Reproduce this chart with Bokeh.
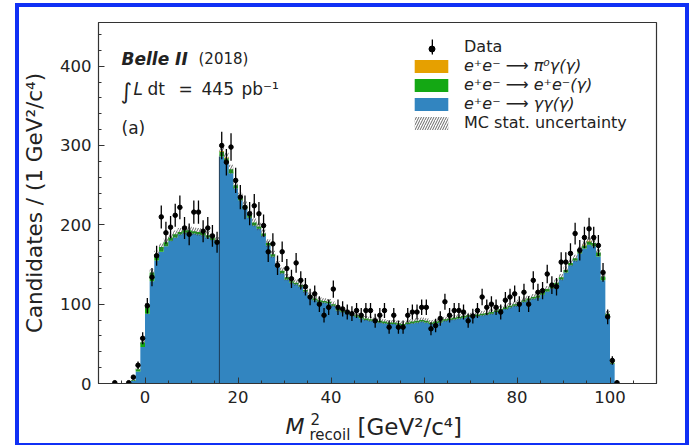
import numpy as np
from bokeh.plotting import figure
from bokeh.layouts import column
from bokeh.models import (Range1d, FixedTicker, Legend, LegendItem, Label, ColumnDataSource)
from bokeh.embed import file_html
from bokeh.resources import INLINE

# ---------------- data (1 GeV^2/c^4 bins, lower edge of first bin = -7) -------------
first_edge = -7
data_counts = [
    1, 0, 0, 1, 8, 23,
    57, 98, 134, 161, 210, 190, 197, 212, 222, 196, 188, 216, 216, 192, 196, 186, 178,
    300, 279, 298, 256, 235, 222, 214, 224, 214, 199, 166, 176, 149, 166, 145, 132, 152, 130,
    122, 109, 113, 100, 86, 96, 119, 96, 94, 90, 88, 92, 86, 92, 92, 79, 86, 92, 71, 86,
    71, 71, 86, 90, 90, 96, 96, 69, 73, 82, 103, 86, 92, 92, 90, 79, 85,
    92, 109, 96, 100, 96, 90, 105, 109, 113, 100, 115, 100, 130, 115, 117, 138, 124, 122,
    153, 153, 164, 189, 168, 184, 195, 184, 174, 140, 84, 29, 1,
]
# total height of the MC stack (gamma gamma + e+e- + pi0 gamma)
mc_stack_total = [
    0.5, 0.5, 0.5, 1, 4, 18,
    52, 98, 140, 163, 172, 178, 184, 188, 191, 193, 193, 192, 191, 190, 187, 184, 180,
    293, 285, 270, 250, 235, 224, 213, 203, 198, 189, 177, 163, 150, 142, 134, 129, 127, 124,
    118, 111, 107, 105, 104, 103, 100, 94, 92, 90, 88, 86, 84, 82, 81, 80, 79, 78, 77, 77,
    76, 75, 77, 78, 79, 80, 79, 77, 78, 79, 81, 82, 83, 84, 85, 86, 86,
    87, 88, 89, 90, 92, 94, 96, 98, 100, 102, 105, 107, 109, 111, 115, 119, 123,
    127, 134, 143, 152, 158, 168, 175, 180, 177, 165, 135, 88, 26, 2,
]
ee_counts = [
    0, 0, 0, 0, 1, 3,
    6, 10, 11, 8, 6, 5, 4, 4, 3, 3, 3, 3, 3, 3, 3, 3, 3,
    6, 5, 5, 4, 4, 4, 4, 4, 3, 3, 3, 3, 3, 3, 3, 2, 2, 2,
    2, 2, 2, 2, 2, 2, 2, 2, 2, 2, 2, 2, 2, 2, 2, 2, 2, 2, 2, 2,
    2, 2, 2, 2, 2, 2, 2, 2, 2, 2, 2, 2, 2, 2, 2, 2, 2,
    2, 2, 2, 2, 2, 2, 2, 2, 2, 2, 2, 2, 2, 3, 3, 3, 3,
    3, 3, 3, 3, 3, 4, 4, 4, 4, 5, 5, 3, 1, 0,
]
pi0_counts = [
    0, 0, 0, 0, 0, 0,
    0, 0, 0, 0, 0, 0, 0, 0, 0, 0, 0, 0, 0, 0, 0, 0, 0,
    1, 1, 0, 0, 0, 0, 0, 0, 0, 0, 0, 0, 0, 0, 0, 0, 0, 0,
    0, 0, 0, 0, 0, 0, 0, 0, 0, 0, 0, 0, 0, 0, 0, 0, 0, 0, 0, 0,
    0, 0, 0, 0, 0, 0, 0, 0, 0, 0, 0, 0, 0, 0, 0, 0, 0,
    0, 0, 0, 0, 0, 0, 0, 0, 0, 0, 0, 0, 0, 0, 0, 0, 0,
    0, 0, 0, 0, 0, 0, 1, 1, 0, 0, 0, 0, 0, 0,
]
x_ticks = [0, 20, 40, 60, 80, 100]
y_ticks = [0, 100, 200, 300, 400]

legend_labels = ["Data", "e\u207ae\u207b \u27f6 \u03c0\u2070\u03b3(\u03b3)",
                 "e\u207ae\u207b \u27f6 e\u207ae\u207b(\u03b3)",
                 "e\u207ae\u207b \u27f6 \u03b3\u03b3(\u03b3)", "MC stat. uncertainty"]

# ---------------- derived arrays ----------------
n = len(data_counts)
edges = first_edge + np.arange(n + 1, dtype=float)
centers = 0.5 * (edges[:-1] + edges[1:])
data = np.array(data_counts, dtype=float)
total = np.array(mc_stack_total, dtype=float)
ee = np.array(ee_counts, dtype=float)
pi0 = np.array(pi0_counts, dtype=float)
gg = np.clip(total - ee - pi0, 0, None)
top_blue = gg
top_green = gg + ee
top_orange = gg + ee + pi0
mc_err = 0.35 * np.sqrt(total)

def ext(a):
    return np.append(a, a[-1])

BLUE = "#3285c0"
GREEN = "#14a814"
ORANGE = "#e6a000"
FONT = "DejaVu Sans"
TXT = "#222222"

# page geometry: blue slide frame (4px) starting at x=15, y=3 -> content origin (19, 7)
OX, OY = 19, 7
W = 666
H_MAIN, H_XLAB = 403, 33
FL, FB = 96, 383  # chart frame left / bottom in page pixels
XLAB_SHIFT = 7    # observed vertical offset of the (frame-aligned) title strip

p = figure(width=W, height=H_MAIN, x_range=Range1d(-10, 110), y_range=Range1d(0, 455),
           output_backend="svg", toolbar_location=None,
           min_border_left=FL - OX, min_border_right=W - (656 - OX),
           min_border_top=22 - OY, min_border_bottom=H_MAIN - (FB - OY))
p.background_fill_color = "white"
p.border_fill_color = "white"
p.xgrid.visible = False
p.ygrid.visible = False
p.outline_line_color = "#333333"
p.outline_line_width = 1.2

for ax in (p.xaxis[0], p.yaxis[0]):
    ax.axis_line_color = "#333333"
    ax.major_tick_line_color = "#333333"
    ax.minor_tick_line_color = "#333333"
    ax.major_tick_in = 6
    ax.major_tick_out = 0
    ax.minor_tick_in = 3
    ax.minor_tick_out = 0
    ax.major_label_text_font = FONT
    ax.major_label_text_font_size = "16.5px"
    ax.major_label_text_color = TXT
    ax.axis_label_text_font = FONT
    ax.axis_label_text_font_style = "normal"
    ax.axis_label_text_color = TXT

p.xaxis.ticker = FixedTicker(ticks=x_ticks, minor_ticks=list(range(-10, 111, 5)))
p.yaxis.ticker = FixedTicker(ticks=y_ticks, minor_ticks=list(range(0, 456, 20)))
p.xaxis.major_label_standoff = 7
p.yaxis.major_label_standoff = 7
p.yaxis.axis_label = "Candidates / (1 GeV\u00b2/c\u2074)"
p.yaxis.axis_label_text_font_size = "21.5px"
p.yaxis.axis_label_standoff = 10

# ---------------- stacked MC ----------------
r_blue = p.varea_step(x=edges, y1=np.zeros(n + 1), y2=ext(top_blue), step_mode="after",
                      fill_color=BLUE)
r_green = p.varea_step(x=edges, y1=ext(top_blue), y2=ext(top_green), step_mode="after",
                       fill_color=GREEN)
r_orange = p.varea_step(x=edges, y1=ext(top_green), y2=ext(top_orange), step_mode="after",
                        fill_color=ORANGE)
r_hatch = p.varea_step(x=edges, y1=ext(np.clip(total - mc_err, 0, None)),
                       y2=ext(total + mc_err), step_mode="after",
                       fill_alpha=0, hatch_pattern="/", hatch_color="#444444",
                       hatch_alpha=0.9, hatch_scale=5, hatch_weight=0.9)

# boundary line at the jump of the distribution
jump = int(np.argmax(np.diff(total))) + 1
p.segment(x0=[edges[jump]], y0=[0], x1=[edges[jump]], y1=[top_blue[jump]],
          line_color="#1d3b55", line_width=1)

# ---------------- data ----------------
mask = data > 0
src = ColumnDataSource(dict(x=centers[mask], y=data[mask],
                            lo=data[mask] - np.sqrt(data[mask]),
                            hi=data[mask] + np.sqrt(data[mask])))
r_err = p.vbar(x="x", bottom="lo", top="hi", width=0.28, source=src,
               fill_color="black", line_color=None)
r_pts = p.scatter(x="x", y="y", source=src, marker="circle", size=4.5,
                  fill_color="black", line_color="black")

leg_style = dict(spacing=0, padding=0, margin=0, border_line_alpha=0,
                 background_fill_alpha=0, label_text_font=FONT,
                 label_text_font_size="16px", label_text_color=TXT)
# "Data" symbol: thin vertical bar + dot (two overlaid legends)
legend_bar = Legend(items=[LegendItem(label=legend_labels[0], renderers=[r_err])],
                    location=(333, 327), glyph_width=2, glyph_height=19,
                    label_standoff=31, **leg_style)
legend_dot = Legend(items=[LegendItem(label=" ", renderers=[r_pts])],
                    location=(326, 327), glyph_width=15, glyph_height=15,
                    label_standoff=0, **leg_style)
# physics processes (math style -> italic)
legend_proc = Legend(items=[
    LegendItem(label=legend_labels[1], renderers=[r_orange]),
    LegendItem(label=legend_labels[2], renderers=[r_green]),
    LegendItem(label=legend_labels[3], renderers=[r_blue]),
], location=(312, 270), glyph_width=42, glyph_height=16, label_standoff=12,
    label_text_font_style="italic", **leg_style)
legend_unc = Legend(items=[LegendItem(label=legend_labels[4], renderers=[r_hatch])],
                    location=(312, 251), glyph_width=42, glyph_height=16,
                    label_standoff=12, **leg_style)
for lg in (legend_bar, legend_dot, legend_proc, legend_unc):
    p.add_layout(lg)

# ---------------- texts inside the chart ----------------
def lab(fig, text, sx, sy, size, style="normal"):
    fig.add_layout(Label(x=sx, y=sy, x_units="screen", y_units="screen", text=text,
                         text_font=FONT, text_font_size=size, text_font_style=style,
                         text_align="left", text_baseline="alphabetic", text_color=TXT))

def chart_lab(text, cx, cy, size, style="normal"):
    lab(p, text, cx - FL, FB - cy, size, style)

chart_lab("Belle II", 119, 58, "17px", "bold italic")
chart_lab("(2018)", 196, 58, "15px")
chart_lab("\u222b", 118, 91, "22px")
chart_lab("L", 131, 88, "17px", "italic")
chart_lab("dt", 145, 88, "17px")
chart_lab("=", 176, 88, "17px")
chart_lab("445", 199, 88, "17px")
chart_lab("pb\u207b\u00b9", 239, 88, "17px")
chart_lab("(a)", 119, 127, "17px")

# ---------------- x axis title (strip below the chart) ----------------
px = figure(width=W, height=H_XLAB, x_range=Range1d(0, W), y_range=Range1d(0, H_XLAB),
            output_backend="svg", toolbar_location=None, x_axis_type=None, y_axis_type=None,
            min_border=0, min_border_left=0, min_border_right=0, min_border_top=0,
            min_border_bottom=0)
px.grid.visible = False
px.outline_line_color = None
px.background_fill_color = "white"
px.border_fill_color = "white"
XB = OY + H_MAIN + H_XLAB + XLAB_SHIFT


def xl(text, cx, cy, size, style="normal"):
    # the strip's frame is aligned with the chart frame by the column layout
    lab(px, text, cx - FL, XB - cy, size, style)

xl("M", 283, 433, "22px", "italic")
xl("2", 308, 425, "15px")
xl("recoil", 307, 441, "15px")
xl("[GeV\u00b2/c\u2074]", 355, 433, "23px")

layout = column(p, px, spacing=0, margin=(3, 0, 0, 15),
                styles={"border": "4px solid #1030f5", "background": "white"})

open("out.html", "w").write(file_html(layout, INLINE))
